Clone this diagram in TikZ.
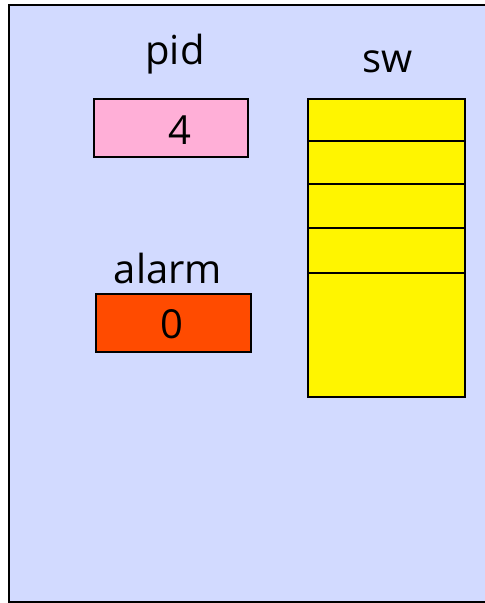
\documentclass[tikz,border=0pt]{standalone}
\usepackage{fontspec}
\setmainfont{Open Sans}
\definecolor{panelblue}{HTML}{D2DAFF}
\definecolor{pidpink}{HTML}{FFAFD7}
\definecolor{alarmred}{HTML}{FF4B00}
\definecolor{swyellow}{HTML}{FFF500}
\tikzset{
  varbox/.style={draw=black, line width=1.2pt},
  varlabel/.style={font=\fontsize{40}{44}\selectfont}
}
\begin{document}
\begin{tikzpicture}[x=1pt, y=-1pt]
        \useasboundingbox (0, 0) rectangle (485, 603);
        \draw[fill=panelblue, line width=2pt] (9, 5) rectangle (495, 602);
        % pid
        \node[varlabel] (pidlabel) at (175, 54) {pid};
        \draw[varbox, fill=pidpink] (94, 99) rectangle (248, 157);
        \node[varlabel] (pidval) at (180, 130) {4};
        % alarm
        \node[varlabel] (alarmlabel) at (168, 268) {alarm};
        \draw[varbox, fill=alarmred] (96, 294) rectangle (251, 352);
        \node[varlabel] (alarmval) at (172, 324) {0};
        % sw
        \node[varlabel] (swlabel) at (388, 62) {sw};
        \draw[varbox, fill=swyellow] (308, 99) rectangle (465, 397);
        \foreach \y in {141, 184, 228, 273}
            \draw[line width=1.3pt] (308, \y) -- (465, \y);
    \end{tikzpicture}
\end{document}
